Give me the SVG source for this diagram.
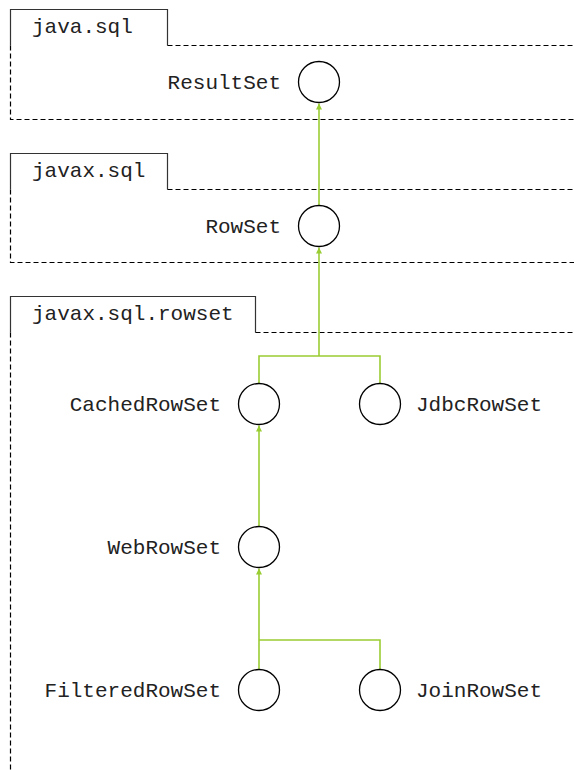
<svg xmlns="http://www.w3.org/2000/svg" width="574" height="770" viewBox="0 0 574 770">
<defs>
<style>
.tab{fill:#fff;stroke:#333;stroke-width:1.2}
.pkg{fill:none;stroke:#000;stroke-width:1.2;stroke-dasharray:5,3}
.lbl{font-family:"Liberation Mono","Courier New",monospace;font-size:21px;fill:#222}
.node{fill:#fff;stroke:#000;stroke-width:1.3}
.conn{fill:none;stroke:#9acd32;stroke-width:1.6}
</style>
<marker id="arr" viewBox="0 0 10 10" refX="10" refY="5" markerWidth="6" markerHeight="8" markerUnits="userSpaceOnUse" orient="auto">
<path d="M0,0 L10,5 L0,10 Z" fill="#9acd32"/>
</marker>
</defs>
<rect width="574" height="770" fill="#fff"/>
<g id="pkg-java-sql">
<path class="tab" d="M10.5,45.5 V9.5 H167.5 V45.5"/>
<path class="pkg" d="M167.5,45.5 H574 M10.5,45.5 V119.5 H574"/>
<text class="lbl" x="32" y="33">java.sql</text>
</g>
<g id="pkg-javax-sql">
<path class="tab" d="M10.5,189.5 V153.5 H167.5 V189.5"/>
<path class="pkg" d="M167.5,189.5 H574 M10.5,189.5 V262.5 H574"/>
<text class="lbl" x="32" y="177">javax.sql</text>
</g>
<g id="pkg-javax-sql-rowset">
<path class="tab" d="M10.5,332.5 V296.5 H255.5 V332.5"/>
<path class="pkg" d="M255.5,332.5 H574 M10.5,332.5 V770"/>
<text class="lbl" x="32" y="320">javax.sql.rowset</text>
</g>
<g id="connectors">
<path class="conn" d="M319,205 V103.5" marker-end="url(#arr)"/>
<path class="conn" d="M259,383 V356 H380 V383 M319,356 V247.5" marker-end="url(#arr)"/>
<path class="conn" d="M259,526 V425.5" marker-end="url(#arr)"/>
<path class="conn" d="M380,669 V640 H259 M259,669 V568.5" marker-end="url(#arr)"/>
</g>
<g id="ResultSet">
<circle class="node" cx="319" cy="82" r="20.5"/>
<text class="lbl" x="281" y="89" text-anchor="end">ResultSet</text>
</g>
<g id="RowSet">
<circle class="node" cx="319" cy="226" r="20.5"/>
<text class="lbl" x="281" y="233" text-anchor="end">RowSet</text>
</g>
<g id="CachedRowSet">
<circle class="node" cx="259" cy="404" r="20.5"/>
<text class="lbl" x="221" y="411" text-anchor="end">CachedRowSet</text>
</g>
<g id="JdbcRowSet">
<circle class="node" cx="380" cy="404" r="20.5"/>
<text class="lbl" x="416" y="411">JdbcRowSet</text>
</g>
<g id="WebRowSet">
<circle class="node" cx="259" cy="547" r="20.5"/>
<text class="lbl" x="221" y="554" text-anchor="end">WebRowSet</text>
</g>
<g id="FilteredRowSet">
<circle class="node" cx="259" cy="690" r="20.5"/>
<text class="lbl" x="221" y="697" text-anchor="end">FilteredRowSet</text>
</g>
<g id="JoinRowSet">
<circle class="node" cx="380" cy="690" r="20.5"/>
<text class="lbl" x="416" y="697">JoinRowSet</text>
</g>
</svg>
